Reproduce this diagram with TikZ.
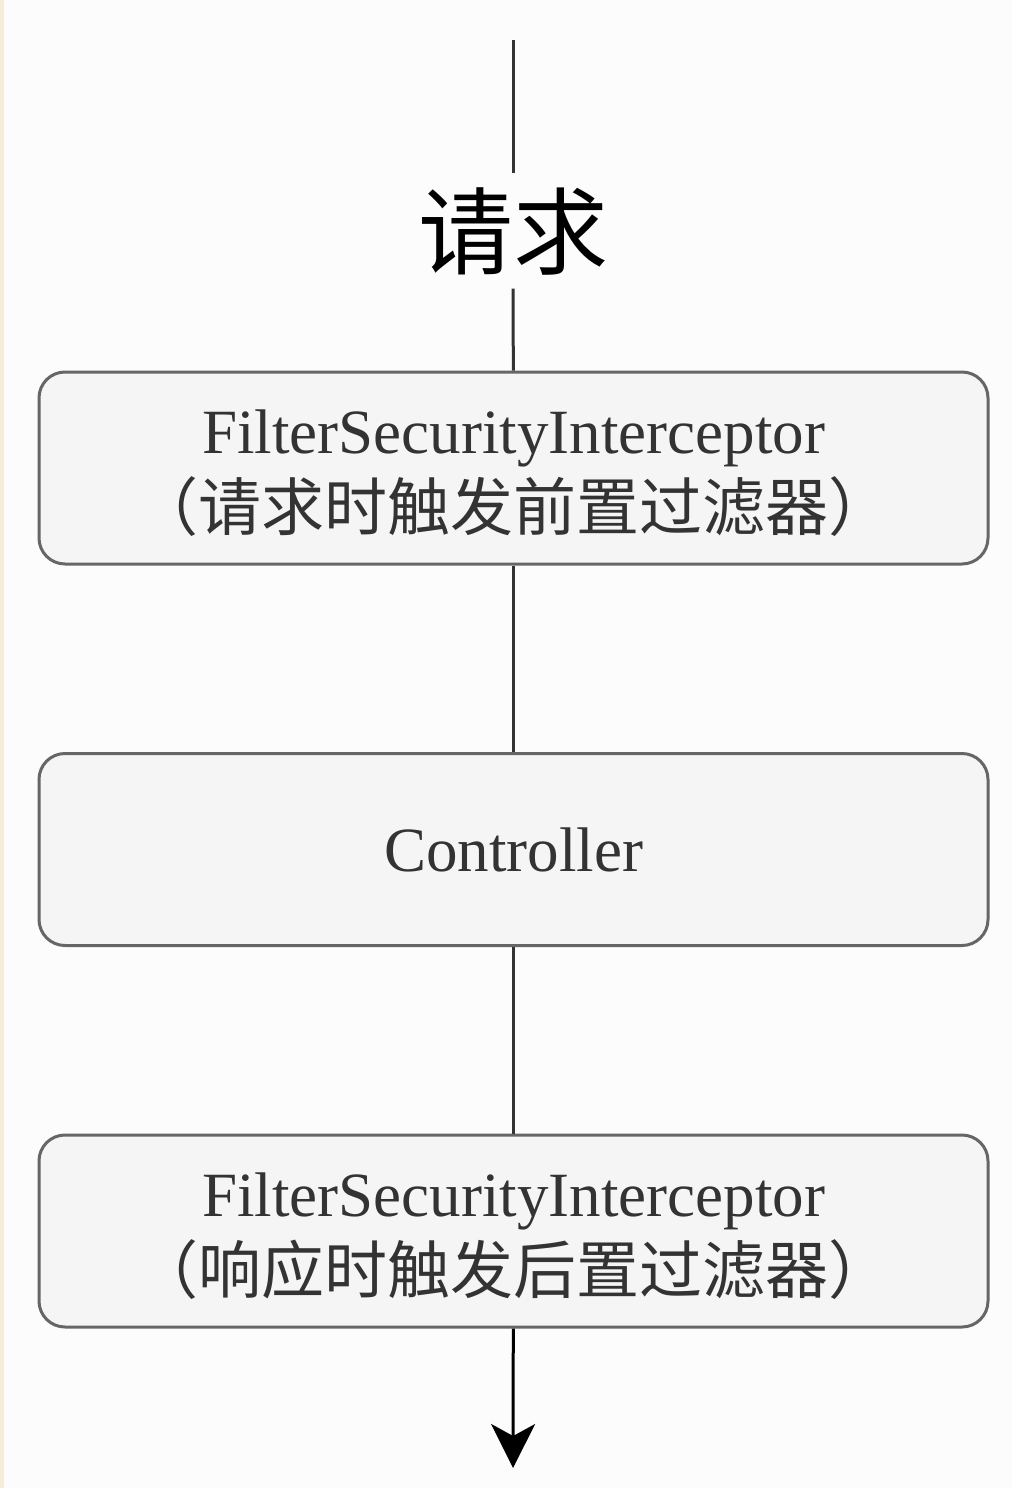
\documentclass[tikz,border=0pt]{standalone}
\usepackage{fontspec}
\setmainfont{Liberation Serif}
\newfontfamily\cjk{Noto Sans CJK SC}
\usetikzlibrary{arrows.meta}
\definecolor{boxfill}{HTML}{F5F5F5}
\definecolor{boxline}{HTML}{666666}
\definecolor{pagebg}{HTML}{FCFCFC}
\definecolor{strip}{HTML}{F5ECD9}
\definecolor{txt}{HTML}{333333}
\tikzset{
	filterbox/.style={draw=boxline,line width=3pt,fill=boxfill,rounded corners=26pt,
		minimum width=949pt,minimum height=192pt,inner sep=0pt,align=center,
		text=txt,font=\fontsize{63}{73}\selectfont},
	flow/.style={draw=txt,line width=3pt}
}
\begin{document}
\begin{tikzpicture}[x=1pt,y=-1pt]
	% page
	\fill[pagebg] (0,0) rectangle (1012,1488);
	\fill[strip] (0,0) rectangle (4,1488);
	\useasboundingbox (0,0) rectangle (1012,1488);

	\coordinate (top) at (513,40);
	\coordinate (bottom) at (513,1468);
	\node (req) at (513,231) [fill=pagebg,inner sep=0pt,minimum height=115pt,
		font=\cjk\fontsize{95}{95}\selectfont]{请求};
	\node (pre) at (513.5,468) [filterbox]{\rule{0pt}{54pt}FilterSecurityInterceptor\\[4pt]{\cjk （请求时触发前置过滤器）}};
	\node (ctl) at (513.5,849.5) [filterbox]{Controller};
	\node (post) at (513.5,1231) [filterbox]{\rule{0pt}{54pt}FilterSecurityInterceptor\\[4pt]{\cjk （响应时触发后置过滤器）}};

	\path[flow] (top) -- (req);
	\path[flow] (req) -- (pre);
	\path[flow] (pre) -- (ctl);
	\path[flow] (ctl) -- (post);
	\path[flow,-{Stealth[length=44pt,width=44pt,inset=12pt]},draw=black] (post) -- (bottom);
\end{tikzpicture}
\end{document}
